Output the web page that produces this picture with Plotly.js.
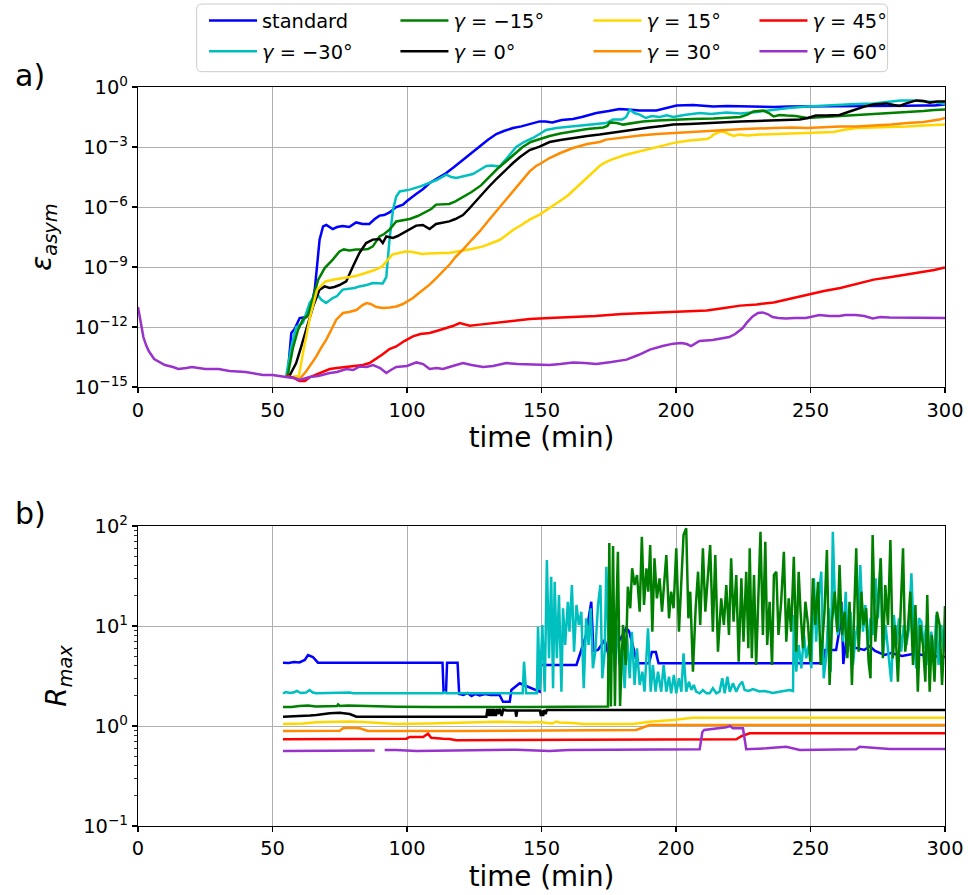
<!DOCTYPE html>
<html>
<head>
<meta charset="utf-8">
<script src="https://cdn.plot.ly/plotly-3.0.1.min.js"></script>
<style>html,body{margin:0;padding:0;background:#fff;}#chart{width:968px;height:895px;}</style>
</head>
<body>
<div id="chart"></div>
<script>
// ---------- DATA (time in min, values as log10) ----------
// panel a) : log10(epsilon_asym)
const epsStandard = [[55.6,-14.45],[57,-12.3],[58.2,-12.1],[60.1,-11.55],[62.6,-11.5],[63.8,-11.2],[65,-10.6],[65.7,-10.13],[66.6,-8.9],[67.5,-7.63],[68.8,-6.97],[70,-6.9],[72.4,-7.1],[74,-7.0],[76.1,-6.95],[78.5,-7.0],[81.1,-6.77],[83.5,-6.85],[86,-6.85],[88,-6.6],[89.8,-6.43],[91.5,-6.4],[93.5,-6.27],[96,-6.0],[98.5,-5.88],[100,-5.7],[103.4,-5.35],[106,-5.1],[108.4,-4.8],[111,-4.6],[114.6,-4.3],[117.5,-4.0],[120.8,-3.63],[124,-3.3],[127,-2.97],[130,-2.65],[133.2,-2.35],[136,-2.2],[139.4,-2.05],[142.5,-1.97],[145.6,-1.85],[149.3,-1.72],[151.5,-1.72],[154,-1.77],[157.5,-1.65],[161.7,-1.6],[165,-1.5],[170.4,-1.3],[175,-1.2],[179,-1.1],[182,-1.12],[186.5,-1.17],[192.7,-1.17],[196,-1.07],[200.2,-0.93],[206.4,-0.9],[213.9,-0.98],[219,-0.95],[223.9,-0.97],[230,-0.98],[236.3,-1.0],[242,-0.97],[248.7,-0.97],[255,-0.95],[261,-0.97],[267,-0.95],[273.5,-0.95],[281,-0.97],[286,-0.94],[292,-0.93],[296,-0.93],[300,-0.88]];
const epsM30 = [[55.1,-14.45],[57,-12.97],[58.8,-12.0],[61.3,-11.8],[63.8,-10.8],[66.3,-10.3],[68.1,-10.63],[69.9,-10.8],[72.4,-10.55],[74,-10.45],[76.1,-10.13],[78.6,-10.1],[80.5,-10.05],[82.3,-9.97],[85,-9.9],[87.3,-9.8],[91,-9.82],[92.3,-9.5],[93.5,-7.63],[94.8,-6.13],[96,-5.47],[97.3,-5.22],[101,-5.13],[105,-4.97],[108.4,-4.8],[111,-4.65],[114.6,-4.38],[116.5,-4.5],[118.3,-4.55],[121,-4.45],[124.5,-4.35],[127,-4.15],[129.5,-3.95],[131.5,-3.93],[134.4,-3.98],[137.5,-3.5],[140.6,-3.0],[143.5,-2.75],[146.8,-2.55],[149.3,-2.35],[151.7,-2.15],[155.5,-2.05],[161.7,-1.97],[167.9,-1.9],[174,-1.8],[176.6,-1.63],[180,-1.63],[181.5,-1.5],[182.8,-1.13],[184.5,-1.3],[186.5,-1.38],[188.8,-1.55],[191,-1.45],[194,-1.5],[196.5,-1.42],[199,-1.5],[203,-1.4],[208.9,-1.3],[213,-1.35],[218.8,-1.28],[224,-1.33],[230,-1.25],[236.3,-1.13],[242,-1.05],[248.7,-0.97],[255,-0.92],[261,-0.88],[267,-0.85],[273.5,-0.82],[278,-0.75],[283.4,-0.67],[288,-0.68],[292,-0.7],[296,-0.75],[300,-0.85]];
const epsM15 = [[55.6,-14.45],[57.6,-13.05],[59.5,-12.13],[61.3,-11.63],[63.2,-11.4],[65.1,-10.47],[67,-9.63],[69.4,-9.05],[72.4,-8.63],[74.9,-8.22],[76.5,-8.12],[78.6,-8.17],[81,-8.12],[83.6,-8.13],[85.5,-8.1],[87.3,-7.97],[89.8,-7.47],[91.5,-7.35],[93.5,-7.13],[96,-6.72],[98.5,-6.65],[101,-6.6],[104,-6.45],[107.1,-6.22],[109,-6.1],[110.8,-5.88],[113,-5.85],[115.7,-5.85],[118,-5.72],[121,-5.5],[124,-5.25],[127.5,-4.92],[130.5,-4.5],[133.5,-4.1],[137,-3.7],[140,-3.35],[143,-3.0],[146,-2.75],[149.3,-2.6],[153,-2.45],[157,-2.32],[161.7,-2.22],[167,-2.1],[172.9,-2.02],[174.5,-1.95],[175.4,-1.77],[178,-1.8],[180.3,-1.88],[184,-1.8],[187.7,-1.72],[193,-1.68],[199,-1.63],[206,-1.6],[213.9,-1.57],[219,-1.53],[223.9,-1.5],[226.5,-1.38],[228.8,-1.22],[232.5,-1.18],[234.5,-1.3],[236.3,-1.47],[238.5,-1.4],[241.2,-1.43],[244.5,-1.45],[248.7,-1.55],[255,-1.5],[261,-1.45],[267,-1.42],[273.5,-1.38],[280,-1.33],[285.9,-1.28],[292,-1.2],[296,-1.15],[300,-1.13]];
const epsG0 = [[56.3,-14.45],[58.8,-13.8],[60.7,-12.97],[62.6,-12.13],[65.1,-10.97],[67.5,-10.13],[69.4,-9.97],[71.2,-10.05],[73,-10.0],[74.9,-9.9],[77.4,-9.72],[79.9,-8.97],[82.3,-8.3],[84.8,-7.8],[87.3,-7.63],[89.8,-7.6],[91,-7.8],[92.3,-7.47],[94.8,-7.55],[96.5,-7.45],[98.5,-7.3],[101,-7.15],[103.4,-6.93],[105.9,-6.9],[108.4,-7.1],[110.8,-6.85],[113,-6.8],[115.7,-6.72],[118,-6.6],[120.8,-6.4],[123,-6.1],[125,-5.8],[127,-5.47],[130,-5.05],[133.2,-4.6],[136.5,-4.15],[139.4,-3.8],[142,-3.5],[145.6,-3.15],[149.3,-2.98],[153,-2.75],[157,-2.65],[161.7,-2.55],[167,-2.45],[171.6,-2.38],[178,-2.25],[184,-2.13],[190,-2.02],[195,-1.95],[199,-1.88],[205,-1.85],[211.5,-1.8],[218,-1.75],[223.9,-1.72],[230,-1.7],[236.3,-1.68],[242,-1.66],[246,-1.63],[249,-1.55],[252,-1.43],[256,-1.42],[260.8,-1.4],[264,-1.25],[267,-1.1],[270,-0.98],[273.2,-0.88],[276,-0.85],[278.2,-0.82],[281,-0.9],[283.1,-0.95],[285.6,-0.82],[289.3,-0.67],[292,-0.7],[294.3,-0.78],[297,-0.72],[300,-0.72]];
const epsP15 = [[57.6,-14.47],[59.8,-14.45],[61.6,-13.1],[64,-11.47],[66.6,-10.13],[69.7,-9.72],[73,-9.62],[78.4,-9.5],[81,-9.45],[84.6,-9.3],[88,-9.15],[90.8,-8.97],[92.5,-8.7],[94.5,-8.38],[97,-8.3],[99.5,-8.22],[102,-8.25],[105.6,-8.35],[108,-8.32],[110.6,-8.3],[113.4,-8.3],[115.6,-8.3],[118,-8.25],[120.8,-8.2],[124,-8.1],[128.3,-7.97],[131,-7.82],[134.4,-7.65],[137,-7.4],[139.4,-7.15],[142.5,-6.9],[145.6,-6.63],[149.3,-6.38],[153,-6.05],[155.5,-5.85],[158,-5.6],[160,-5.4],[162,-5.15],[164,-4.9],[166,-4.6],[168,-4.35],[170,-4.1],[172,-3.9],[174.5,-3.72],[177,-3.58],[181,-3.4],[184,-3.3],[188,-3.15],[192,-3.0],[196,-2.88],[200,-2.77],[205,-2.68],[211.5,-2.6],[213,-2.5],[214,-2.38],[216,-2.25],[217.7,-2.22],[219.5,-2.35],[221.5,-2.45],[223.5,-2.38],[226.4,-2.43],[231,-2.38],[236.3,-2.35],[242,-2.32],[248.7,-2.3],[254,-2.27],[258.6,-2.25],[262,-2.15],[267.3,-2.05],[273,-2.02],[279.7,-2.0],[286,-1.97],[292,-1.92],[298,-1.88],[300,-1.87]];
const epsP30 = [[55,-14.45],[58,-14.55],[60.1,-14.6],[62.6,-14.2],[64.5,-13.85],[66.3,-13.47],[68,-13.05],[70,-12.63],[72,-12.1],[73.7,-11.63],[76.2,-11.3],[78.5,-11.25],[81.2,-11.15],[83.5,-10.9],[85,-10.8],[86.5,-10.85],[88.6,-11.0],[91,-11.05],[93.6,-11.02],[96,-10.97],[98.5,-10.85],[100.3,-10.72],[102.2,-10.55],[104,-10.35],[106,-10.13],[108.4,-9.88],[110.9,-9.55],[113,-9.25],[114.6,-9.05],[116,-8.85],[118,-8.5],[120.8,-8.13],[124,-7.65],[127,-7.22],[130,-6.72],[133.2,-6.22],[136,-5.77],[139.4,-5.22],[142.5,-4.72],[145.6,-4.22],[148,-3.95],[150,-3.8],[153,-3.55],[157,-3.3],[161.7,-3.05],[167,-2.85],[171.6,-2.75],[174,-2.63],[180,-2.52],[186.5,-2.43],[193,-2.35],[199,-2.3],[205,-2.25],[211.5,-2.2],[217.7,-2.13],[225,-2.1],[236.3,-2.05],[243,-2.02],[248.7,-2.05],[255,-2.0],[261,-1.97],[267,-1.97],[273.5,-1.93],[280,-1.88],[286,-1.8],[292,-1.75],[298,-1.63],[300,-1.55]];
const epsP45 = [[55,-14.45],[58,-14.55],[60,-14.7],[62,-14.7],[64,-14.5],[67.5,-14.3],[71.3,-14.1],[74,-14.05],[77.4,-14.0],[80,-13.95],[83.6,-13.9],[86.1,-13.8],[88.5,-13.6],[91.1,-13.35],[93.5,-13.1],[96,-12.97],[99,-12.7],[102.2,-12.47],[105,-12.35],[108.4,-12.3],[111,-12.2],[114.6,-12.05],[117,-11.95],[119.6,-11.8],[121.5,-11.85],[123.3,-11.93],[127,-11.88],[133.2,-11.78],[139,-11.7],[145.6,-11.6],[153,-11.55],[161.7,-11.5],[170,-11.45],[180,-11.35],[190,-11.3],[199,-11.27],[205,-11.22],[211.5,-11.17],[218,-11.05],[223.9,-10.93],[230,-10.87],[236.3,-10.77],[242,-10.6],[248.7,-10.38],[255,-10.2],[261.1,-10.05],[267,-9.85],[273.5,-9.63],[280,-9.5],[285.9,-9.38],[292,-9.25],[296,-9.15],[300,-9.02]];
const epsP60 = [[0,-11.0],[1,-11.8],[2,-12.5],[3,-12.9],[4,-13.2],[6,-13.6],[8,-13.75],[10,-13.9],[13,-14.0],[15,-14.1],[18,-14.05],[20,-14.0],[25,-14.1],[30,-14.1],[34,-14.2],[40,-14.25],[46.5,-14.4],[50,-14.4],[55,-14.5],[57.9,-14.55],[60.1,-14.65],[61.5,-14.6],[63.8,-14.5],[67,-14.45],[71.3,-14.3],[74,-14.25],[77.4,-14.1],[80,-14.15],[82.4,-13.97],[85,-14.0],[87.4,-13.9],[90,-14.05],[92.3,-14.3],[94,-14.15],[96,-14.0],[100,-13.95],[103.5,-13.77],[106,-13.85],[108.4,-14.1],[111,-14.05],[113.4,-14.1],[117,-13.95],[120.8,-13.8],[124,-13.9],[128.3,-14.0],[132,-13.95],[136.9,-13.8],[141,-13.85],[145.6,-13.87],[149.3,-13.9],[153,-13.9],[157,-13.85],[161.7,-13.77],[166,-13.8],[170.4,-13.85],[176,-13.75],[181.6,-13.63],[186,-13.4],[190.3,-13.13],[195,-12.95],[199,-12.83],[202,-12.8],[204,-12.85],[205.6,-12.95],[208.7,-12.7],[213.6,-12.65],[216,-12.6],[219.8,-12.5],[222,-12.35],[224.8,-12.05],[226.5,-11.75],[228.5,-11.47],[230.5,-11.3],[232.2,-11.27],[234,-11.35],[235.9,-11.5],[238,-11.55],[240.9,-11.57],[244,-11.55],[248.3,-11.55],[253.3,-11.4],[257,-11.45],[260.7,-11.45],[263,-11.4],[266.9,-11.4],[270,-11.45],[273.1,-11.57],[276,-11.5],[279.3,-11.52],[285.5,-11.52],[291.7,-11.52],[296,-11.53],[300,-11.55]];

// panel b) : log10(R_max)
const rStandard = [[53.9,0.633],[56,0.63],[58,0.64],[60,0.635],[62,0.66],[63.2,0.71],[65,0.69],[66.9,0.633],[80,0.633],[100,0.633],[113.2,0.633],[113.6,0.343],[114.5,0.343],[114.9,0.633],[118.8,0.633],[119.4,0.32],[121,0.31],[122.5,0.33],[124,0.30],[125.5,0.32],[127,0.305],[129,0.32],[131,0.31],[134.4,0.31],[135.7,0.243],[138.2,0.243],[138.8,0.36],[141.9,0.427],[143.5,0.41],[145,0.39],[147,0.37],[149.3,0.343],[149.6,0.61],[163,0.61],[164.8,0.76],[166.5,0.9],[168.5,1.243],[169.3,0.75],[171,0.76],[173.5,0.86],[175,0.7],[178,0.82],[180,0.9],[181.5,0.98],[182.5,0.95],[184,0.8],[185.5,0.627],[190,0.627],[191,0.74],[192.5,0.74],[193.5,0.627],[254.5,0.627],[255.5,0.76],[259.5,0.76],[261,1.0],[261.5,1.243],[262.2,0.62],[263.5,0.91],[265,0.8],[267,0.78],[270,0.76],[272,0.8],[274,0.75],[277.5,0.71],[280,0.73],[284,0.7],[288,0.72],[292,0.71],[296,0.7],[300,0.69]];
const rM30 = [[53.9,0.327],[55,0.34],[56.5,0.33],[58,0.337],[59,0.35],[60.5,0.33],[62.5,0.335],[63.8,0.36],[65,0.335],[66.3,0.327],[78.7,0.335],[80,0.327],[113.5,0.327],[114,0.34],[114.6,0.327],[143,0.327],[143.5,0.643],[144.3,0.327],[148.3,0.327],[148.7,0.993],[149.4,0.36],[150.3,1.01],[151.2,0.343],[152,1.66],[152.8,0.677],[153.6,1.493],[154.3,0.377],[154.9,1.443],[155.7,0.677],[156.5,1.31],[157.4,0.343],[158,1.177],[158.8,0.81],[159.8,1.243],[160.4,0.943],[161.3,1.41],[162.1,0.743],[163,1.21],[163.9,1.01],[164.8,1.143],[165.7,0.377],[166.6,1.077],[167.5,0.81],[168.3,1.177],[169.1,0.577],[170,0.743],[171,1.21],[171.9,1.41],[172.6,0.477],[173.5,0.743],[174.1,1.593],[174.7,1.01],[175.3,0.543],[176,1.177],[176.6,1.143],[177.2,0.543],[178,1.01],[179,0.61],[180,0.81],[180.9,0.377],[181.8,0.91],[182.8,0.477],[183.6,0.943],[184.6,0.41],[185.5,0.777],[186.5,0.41],[187.5,0.543],[188.3,0.343],[189.6,0.977],[190.6,0.343],[191.4,0.61],[192.4,0.343],[193.3,0.543],[194.5,0.343],[195.4,0.61],[196.4,0.343],[197.4,0.493],[198.2,0.327],[199.2,0.51],[200.1,0.327],[201.1,0.477],[202,0.343],[202.8,0.727],[203.8,0.343],[204.8,0.443],[205.7,0.36],[206.6,0.41],[207.5,0.343],[208.8,0.327],[210,0.36],[211.3,0.327],[212.5,0.327],[213.7,0.377],[215,0.327],[216.2,0.343],[217.2,0.477],[218.1,0.327],[219.1,0.493],[220,0.343],[221.2,0.427],[222.4,0.343],[223.6,0.41],[224.6,0.443],[225.5,0.36],[227,0.35],[228.6,0.37],[231,0.345],[233,0.35],[236,0.33],[239,0.345],[242.2,0.36],[243.5,0.35],[243.8,1.11],[244.7,0.543],[245.6,0.81],[246.6,0.577],[247.6,0.91],[248.4,0.677],[249.4,0.81],[250.3,0.577],[251.3,1.477],[252.1,0.843],[253,1.277],[254,1.543],[254.9,0.477],[255.9,0.71],[256.7,1.177],[257.5,0.543],[258.3,1.943],[259.2,1.143],[260.2,0.91],[261.2,1.277],[262.1,0.843],[263.1,1.343],[263.9,0.743],[264.9,1.143],[265.8,0.61],[266.8,0.91],[267.6,1.01],[268.5,1.61],[269.5,0.943],[270.4,1.21],[271.3,0.777],[272.3,1.077],[273.2,0.91],[274.2,1.477],[275.1,1.077],[276.1,1.677],[276.9,0.71],[277.9,1.01],[278.8,0.743],[280,0.443],[281,1.11],[281.9,0.81],[282.9,1.077],[283.7,0.743],[284.7,1.01],[285.6,0.81],[286.6,0.977],[287.5,1.527],[288.4,0.91],[289.3,0.577],[290.3,1.077],[291.2,1.043],[292.2,0.777],[293,1.01],[293.9,0.61],[294.9,0.943],[295.9,0.677],[296.8,1.11],[297.6,0.61],[298.6,1.01],[299.6,0.743],[300,0.9]];
const rM15 = [[53.9,0.19],[57,0.19],[60,0.2],[63.2,0.205],[66,0.195],[71.3,0.195],[74,0.2],[74.4,0.215],[75,0.2],[78,0.205],[83.6,0.2],[90,0.197],[96,0.193],[110,0.19],[120.8,0.187],[135,0.19],[145.6,0.19],[150,0.19],[153,0.195],[174.7,0.195],[175.2,1.83],[175.8,0.195],[176.6,1.80],[177.3,0.2],[177.8,1.1],[178.4,1.743],[179.2,0.2],[180.3,1.01],[181.3,0.61],[182.1,1.393],[183,1.177],[183.7,1.577],[184.6,1.41],[185.5,1.51],[186.5,1.143],[187.3,1.893],[188.1,1.21],[189,1.577],[189.7,1.343],[190.4,1.81],[191.2,0.943],[192,1.677],[192.9,1.277],[193.9,1.477],[194.8,1.143],[195.5,1.377],[196.4,1.71],[197.4,1.077],[198.2,1.343],[199.1,1.177],[200.1,1.777],[201.1,0.943],[202,1.41],[202.8,1.91],[203.8,1.977],[204.6,1.077],[205.3,1.343],[206.3,0.543],[207.3,1.177],[208.2,1.543],[209,1.01],[210,1.777],[210.9,1.143],[211.9,1.477],[212.7,1.81],[213.7,0.943],[214.6,1.71],[215.6,0.743],[216.8,1.277],[217.8,1.01],[218.7,1.41],[219.7,0.91],[220.5,1.677],[221.4,1.043],[222.4,1.51],[223.3,0.643],[224.3,1.477],[225.1,0.843],[226.1,1.543],[226.9,0.777],[227.4,1.777],[228.2,0.677],[229,1.51],[229.8,0.61],[230.7,1.377],[231.4,1.943],[232.3,0.91],[233.2,1.843],[233.9,0.81],[234.8,1.243],[235.7,0.61],[236.4,1.51],[237.3,1.543],[238.1,0.91],[239.1,1.243],[240.1,1.743],[241,0.843],[241.9,1.277],[242.8,0.943],[243.8,1.693],[244.7,0.743],[245.6,1.543],[246.3,1.143],[247.2,0.777],[248.1,1.243],[249.1,1.01],[249.9,0.643],[250.9,1.477],[251.8,1.01],[252.8,1.443],[253.8,0.61],[254.6,0.977],[255.2,1.143],[256.1,1.76],[257.1,0.41],[258,1.043],[259,1.343],[260,0.943],[260.8,1.61],[261.7,0.91],[262.7,1.143],[263.7,0.677],[264.5,1.243],[265.4,0.41],[266.1,1.11],[267,1.777],[267.9,0.743],[268.9,1.343],[269.7,1.01],[270.7,1.177],[271.6,0.643],[272.3,0.477],[273.1,1.91],[274.1,0.843],[275.1,1.21],[276.1,1.677],[276.9,0.677],[277.8,1.41],[278.8,1.01],[279.7,1.86],[280.6,0.677],[281.5,1.01],[282.5,0.443],[283.5,1.177],[284.4,1.777],[285.2,0.743],[286.2,0.977],[287.1,1.343],[288.1,0.61],[289,1.21],[289.9,0.343],[290.8,1.01],[291.8,0.81],[292.7,0.443],[293.4,1.31],[294.3,0.343],[295.1,0.91],[296.1,0.443],[297,1.143],[298,1.01],[298.9,0.41],[299.6,0.81],[300,1.2]];
const rG0 = [[53.9,0.093],[58,0.095],[61.3,0.1],[64,0.105],[66.3,0.11],[69,0.12],[71.3,0.127],[75,0.133],[77,0.13],[78.7,0.12],[81.2,0.093],[100,0.093],[129.5,0.093],[129.9,0.17],[130.3,0.1],[130.7,0.17],[131.1,0.1],[131.5,0.17],[132,0.1],[132.4,0.17],[133,0.1],[133.5,0.17],[134,0.12],[134.6,0.17],[135.2,0.1],[135.8,0.165],[137,0.155],[140.3,0.155],[140.6,0.093],[141,0.155],[149.4,0.155],[149.8,0.1],[150.2,0.155],[150.6,0.1],[151,0.16],[151.5,0.12],[152,0.16],[300,0.16]];
const rP15 = [[53.9,0.02],[58,0.022],[61.3,0.025],[66.3,0.037],[71.3,0.043],[78,0.045],[83.6,0.04],[89.8,0.027],[96,0.02],[108.4,0.025],[120.8,0.033],[133.2,0.043],[145.6,0.035],[149.3,0.04],[153,0.027],[154.3,0.027],[155.5,0.045],[156.7,0.035],[161.7,0.03],[165.4,0.02],[184,0.02],[190.2,0.043],[198.9,0.06],[206.3,0.083],[300,0.083]];
const rP30 = [[53.9,-0.05],[66.3,-0.047],[75,-0.047],[76.2,-0.023],[78.7,-0.017],[82.4,-0.023],[85.5,-0.05],[120,-0.05],[150,-0.047],[184,-0.047],[185.2,-0.04],[190.2,0.01],[300,0.01]];
const rP45 = [[53.9,-0.133],[99.8,-0.127],[101,-0.11],[106,-0.11],[107.8,-0.077],[109,-0.117],[113.4,-0.127],[115.9,-0.13],[118.3,-0.143],[150,-0.14],[222.4,-0.133],[224.5,-0.1],[227.4,-0.073],[300,-0.073]];
const rP60 = [[53.9,-0.25],[71.3,-0.247],[73.7,-0.24],[86.1,-0.24],[88,-0.245],[89.9,null],[91.7,-0.24],[96,-0.24],[103.5,-0.25],[120.8,-0.247],[140.6,-0.237],[153,-0.25],[160,-0.24],[208.8,-0.233],[209.8,-0.06],[210.5,-0.04],[218.7,-0.013],[220,0.0],[221.2,-0.023],[224.9,-0.023],[226.1,-0.233],[233.6,-0.223],[241,-0.207],[246,-0.24],[267,-0.233],[268.3,-0.207],[279.4,-0.23],[300,-0.23]];

const seriesNames = ['standard', '<i>γ</i> = −30°', '<i>γ</i> = −15°', '<i>γ</i> = 0°', '<i>γ</i> = 15°', '<i>γ</i> = 30°', '<i>γ</i> = 45°', '<i>γ</i> = 60°'];
const seriesColors = ['#0000ff', '#00bfbf', '#008000', '#000000', '#ffd700', '#ff8c00', '#ff0000', '#9932cc'];
const epsSeries = [epsStandard, epsM30, epsM15, epsG0, epsP15, epsP30, epsP45, epsP60];
const rSeries = [rStandard, rM30, rM15, rG0, rP15, rP30, rP45, rP60];
const xTicks = [0, 50, 100, 150, 200, 250, 300];
const epsTickExp = [-15, -12, -9, -6, -3, 0];
const rTickExp = [-1, 0, 1, 2];

// ---------- BUILD ----------
const FONT = 'DejaVu Sans';
const fromLog = v => (v === null ? null : Math.pow(10, v));
// legend slot of each series (matplotlib ncol=4, column-major)
const legendSlots = [[0,0],[0,1],[1,0],[1,1],[2,0],[2,1],[3,0],[3,1]];
const colX = [0.0818, 0.3190, 0.5582, 0.7639];
const rowY = [1.0893, 1.0478];

const traces = [];
epsSeries.forEach((s, i) => {
  traces.push({
    x: s.map(p => p[0]), y: s.map(p => fromLog(p[1])),
    type: 'scatter', mode: 'lines', name: seriesNames[i],
    line: {color: seriesColors[i], width: 2.5},
    xaxis: 'x', yaxis: 'y',
    legend: i === 0 ? 'legend' : 'legend' + (i + 1),
    hoverinfo: 'skip'
  });
});
rSeries.forEach((s, i) => {
  traces.push({
    x: s.map(p => p[0]), y: s.map(p => fromLog(p[1])),
    type: 'scatter', mode: 'lines', name: seriesNames[i],
    line: {color: seriesColors[i], width: 2.5},
    xaxis: 'x2', yaxis: 'y2', showlegend: false, connectgaps: false,
    hoverinfo: 'skip'
  });
});

const supText = e => '10<sup>' + (e < 0 ? '−' + (-e) : e) + '</sup>';
const minorR = [];
rTickExp.slice(0, -1).forEach(e => { for (let k = 2; k <= 9; k++) minorR.push(k * Math.pow(10, e)); });

const axisCommon = {
  showline: true, linecolor: '#000', linewidth: 1.2, mirror: true,
  ticks: 'outside', ticklen: 5, tickwidth: 1.1, tickcolor: '#000',
  showgrid: true, gridcolor: '#b0b0b0', gridwidth: 1,
  zeroline: false, tickfont: {family: FONT, size: 19.4, color: '#000'}
};
const xAxisBase = Object.assign({}, axisCommon, {
  range: [0, 300], tickmode: 'array', tickvals: xTicks, ticktext: xTicks.map(String),
  title: {text: 'time (min)', font: {family: FONT, size: 27.8, color: '#000'}, standoff: 6}
});

const layout = {
  width: 968, height: 895,
  margin: {l: 138, r: 23, t: 87, b: 69, autoexpand: false},
  paper_bgcolor: '#fff', plot_bgcolor: '#fff',
  font: {family: FONT, color: '#000'},
  xaxis: Object.assign({}, xAxisBase, {anchor: 'y', domain: [0, 1]}),
  xaxis2: Object.assign({}, xAxisBase, {anchor: 'y2', domain: [0, 1]}),
  yaxis: Object.assign({}, axisCommon, {
    type: 'log', range: [-15, 0], domain: [0.594, 1], anchor: 'x',
    tickmode: 'array', tickvals: epsTickExp.map(e => Math.pow(10, e)), ticktext: epsTickExp.map(supText),
    title: {text: '<i>ε<sub>asym</sub></i>', font: {family: FONT, size: 27.8, color: '#000'}, standoff: 14}
  }),
  yaxis2: Object.assign({}, axisCommon, {
    type: 'log', range: [-1, 2], domain: [0, 0.40595], anchor: 'x2',
    tickmode: 'array', tickvals: rTickExp.map(e => Math.pow(10, e)), ticktext: rTickExp.map(supText),
    minor: {tickmode: 'array', tickvals: minorR, ticks: 'outside', ticklen: 3, tickwidth: 0.8, tickcolor: '#000', showgrid: false},
    title: {text: '<i>R<sub>max</sub></i>', font: {family: FONT, size: 27.8, color: '#000'}, standoff: 8}
  }),
  annotations: [
    {text: 'a)', xref: 'paper', yref: 'paper', x: -0.1549, y: 1.0162, xanchor: 'left', yanchor: 'middle', showarrow: false, font: {family: FONT, size: 30, color: '#000'}},
    {text: 'b)', xref: 'paper', yref: 'paper', x: -0.1549, y: 0.4222, xanchor: 'left', yanchor: 'middle', showarrow: false, font: {family: FONT, size: 30, color: '#000'}}
  ],
  shapes: [{
    type: 'path', xref: 'paper', yref: 'paper', layer: 'below',
    path: 'M0.0795,1.1123 L0.9221,1.1123 Q0.9289,1.1123 0.9289,1.1049 L0.9289,1.0281 Q0.9289,1.0207 0.9221,1.0207 L0.0795,1.0207 Q0.0727,1.0207 0.0727,1.0281 L0.0727,1.1049 Q0.0727,1.1123 0.0795,1.1123 Z',
    line: {color: '#cccccc', width: 1}, fillcolor: 'rgba(255,255,255,0.8)'
  }],
  showlegend: true
};
legendSlots.forEach((slot, i) => {
  const key = i === 0 ? 'legend' : 'legend' + (i + 1);
  layout[key] = {
    x: colX[slot[0]], y: rowY[slot[1]], xref: 'paper', yref: 'paper',
    xanchor: 'left', yanchor: 'middle', orientation: 'v',
    bgcolor: 'rgba(0,0,0,0)', borderwidth: 0, itemwidth: 48,
    font: {family: FONT, size: 19.4, color: '#000'}
  };
});

Plotly.newPlot('chart', traces, layout, {staticPlot: true, displayModeBar: false});
</script>
</body>
</html>
